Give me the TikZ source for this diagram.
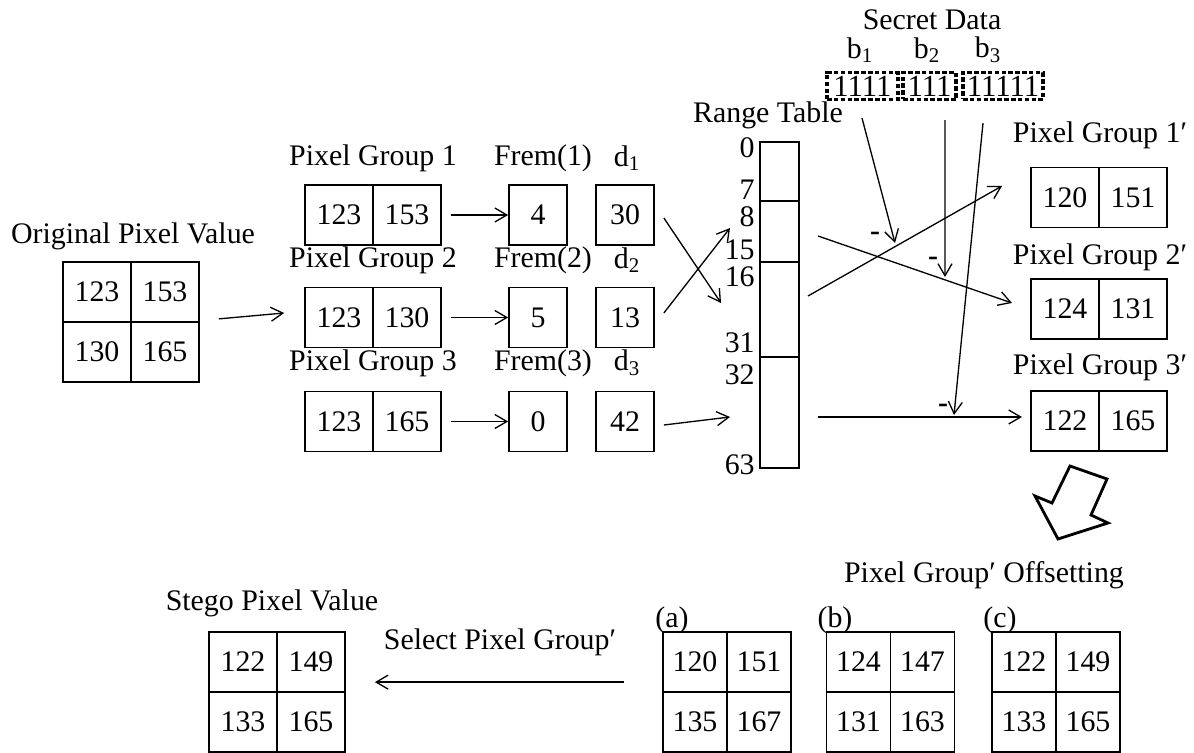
\documentclass[tikz,border=0pt]{standalone}
\usepackage{fontspec}
\setmainfont{Liberation Serif}
\usetikzlibrary{arrows.meta, positioning}

\begin{document}
\begin{tikzpicture}[
    x=0.02cm, y=-0.02cm,
    every node/.style={font=\fontsize{17}{20}\selectfont},
    cell/.style={draw, line width=1pt, minimum width=1.36cm, minimum height=1.2cm, inner sep=0pt},
    small/.style={cell, minimum width=1.16cm},
    bcell/.style={cell, minimum width=1.28cm},
    tbl/.style={draw, line width=1pt, minimum width=0.78cm, inner sep=0pt},
    secret/.style={draw, line width=1.8pt, dash pattern=on 2.6pt off 1.3pt, minimum height=0.54cm, inner sep=0pt, font=\fontsize{17.5}{20}\selectfont},
    num/.style={anchor=east, inner sep=0pt},
    minus/.style={font=\fontsize{17}{20}\selectfont\bfseries},
    arrow/.style={-{Straight Barb[length=2.4mm, width=2.8mm]}, line width=0.75pt}
]
    \useasboundingbox (0,0) rectangle (1194,753);

    % Original pixel value
    \node (origlbl) at (133,236) {Original Pixel Value};
    \node[cell] (o11) at (97,292) {123};
    \node[cell] (o12) at (165,292) {153};
    \node[cell] (o21) at (97,352) {130};
    \node[cell] (o22) at (165,352) {165};

    % Pixel groups
    \node (g1lbl) at (373,158) {Pixel Group 1};
    \node[cell] (g1a) at (339,215) {123};
    \node[cell] (g1b) at (407,215) {153};
    \node (g2lbl) at (373,260) {Pixel Group 2};
    \node[cell] (g2a) at (339,317.5) {123};
    \node[cell] (g2b) at (407,317.5) {130};
    \node (g3lbl) at (373,363) {Pixel Group 3};
    \node[cell] (g3a) at (339,421.5) {123};
    \node[cell] (g3b) at (407,421.5) {165};

    % Frem and d
    \node (f1lbl) at (543,158) {Frem(1)};
    \node[small] (f1) at (538,215) {4};
    \node (f2lbl) at (543,260) {Frem(2)};
    \node[small] (f2) at (538,317.5) {5};
    \node (f3lbl) at (543,363) {Frem(3)};
    \node[small] (f3) at (538,421.5) {0};
    \node (d1lbl) at (627,158) {d\textsubscript{1}};
    \node[small] (d1) at (625,215) {30};
    \node (d2lbl) at (627,260) {d\textsubscript{2}};
    \node[small] (d2) at (625,317.5) {13};
    \node (d3lbl) at (627,363) {d\textsubscript{3}};
    \node[small] (d3) at (625,421.5) {42};

    % Range table
    \node (rtlbl) at (768,115) {Range Table};
    \node[tbl, minimum height=1.18cm] (r1) at (779.5,171.5) {};
    \node[tbl, minimum height=1.22cm] (r2) at (779.5,231.5) {};
    \node[tbl, minimum height=1.9cm] (r3) at (779.5,309.5) {};
    \node[tbl, minimum height=2.22cm] (r4) at (779.5,412.5) {};
    \node[num] at (755,148) {0};
    \node[num] at (755,190) {7};
    \node[num] at (755,217) {8};
    \node[num] at (755,250) {15};
    \node[num] at (755,277) {16};
    \node[num] at (755,343) {31};
    \node[num] at (755,375) {32};
    \node[num] at (755,465) {63};

    % Secret data
    \node (sdlbl) at (932,20) {Secret Data};
    \node (b1) at (860,50) {b\textsubscript{1}};
    \node (b2) at (927,50) {b\textsubscript{2}};
    \node (b3) at (988,50) {b\textsubscript{3}};
    \node[secret, minimum width=1.42cm] (s1) at (862.5,86) {1111};
    \node[secret, minimum width=1.06cm] (s2) at (929.5,86) {111};
    \node[secret, minimum width=1.6cm] (s3) at (1003,86) {11111};

    % Pixel groups after embedding
    \node (p1lbl) at (1100,135) {Pixel Group 1′};
    \node[cell] (p1a) at (1065,197.5) {120};
    \node[cell] (p1b) at (1133,197.5) {151};
    \node (p2lbl) at (1100,257) {Pixel Group 2′};
    \node[cell] (p2a) at (1065,309) {124};
    \node[cell] (p2b) at (1133,309) {131};
    \node (p3lbl) at (1100,367) {Pixel Group 3′};
    \node[cell] (p3a) at (1065,421) {122};
    \node[cell] (p3b) at (1133,421) {165};

    % Offsetting candidates
    \node (offlbl) at (984,575) {Pixel Group′ Offsetting};
    \node (alb) at (672,620) {(a)};
    \node[bcell] (a11) at (695,662) {120};
    \node[bcell] (a12) at (759,662) {151};
    \node[bcell] (a21) at (695,722) {135};
    \node[bcell] (a22) at (759,722) {167};
    \node (blb) at (835,620) {(b)};
    \node[bcell] (b11) at (858.5,662) {124};
    \node[bcell] (b12) at (922.5,662) {147};
    \node[bcell] (b21) at (858.5,722) {131};
    \node[bcell] (b22) at (922.5,722) {163};
    \node (clb) at (1000,620) {(c)};
    \node[bcell] (c11) at (1024,662) {122};
    \node[bcell] (c12) at (1088,662) {149};
    \node[bcell] (c21) at (1024,722) {133};
    \node[bcell] (c22) at (1088,722) {165};

    % Stego pixel value
    \node (stlbl) at (272,603) {Stego Pixel Value};
    \node[cell] (st11) at (243,662) {122};
    \node[cell] (st12) at (311,662) {149};
    \node[cell] (st21) at (243,722) {133};
    \node[cell] (st22) at (311,722) {165};
    \node (sellbl) at (500,642) {Select Pixel Group′};

    % Free ends near the range table
    \coordinate (in1) at (721,303);
    \coordinate (in2) at (730,228);
    \coordinate (in3) at (730,417);
    \coordinate (out1) at (808,296);
    \coordinate (out2) at (818,236);
    \coordinate (out3) at (818,417);
    \coordinate (end1) at (1002,186);
    \coordinate (end2) at (1012,303);
    \coordinate (end3) at (1022,417);
    \coordinate (hit1) at (895,243);
    \coordinate (hit2) at (945,277);
    \coordinate (hit3) at (954,415);

    % Connections
    \draw[arrow] ([shift={(19,-4)}]o12.south east) -- ([shift={(-20,-4.5)}]g2a.west);
    \draw[arrow] ([xshift=0.18cm]g1b.east) -- (f1.west);
    \draw[arrow] ([xshift=0.18cm]g2b.east) -- (f2.west);
    \draw[arrow] ([xshift=0.18cm]g3b.east) -- (f3.west);
    \draw[arrow] ([shift={(9,3)}]d1.east) -- (in1);
    \draw[arrow] ([shift={(9,-4.5)}]d2.east) -- (in2);
    \draw[arrow] ([shift={(9,3.5)}]d3.east) -- (in3);
    \draw[arrow] (out1) -- (end1);
    \draw[arrow] (out2) -- (end2);
    \draw[arrow] (out3) -- (end3);
    \draw[arrow] ([shift={(-0.5,17)}]s1.south) -- (hit1);
    \draw[arrow] ([shift={(15.5,19)}]s2.south) -- (hit2);
    \draw[arrow] ([shift={(-20,22)}]s3.south) -- (hit3);
    \draw[arrow] ([shift={(-38,-9)}]a21.north west) -- ([shift={(29,-9)}]st22.north east);

    % Minus marks
    \node[minus] at (875,236) {-};
    \node[minus] at (933,261) {-};
    \node[minus] at (943,408) {-};

    % Hollow arrow
    \draw[line width=1.6pt] (1070,466) -- (1107,479) -- (1091,515) -- (1108,523) -- (1058,539) -- (1035,496) -- (1052,503) -- cycle;
\end{tikzpicture}
\end{document}
